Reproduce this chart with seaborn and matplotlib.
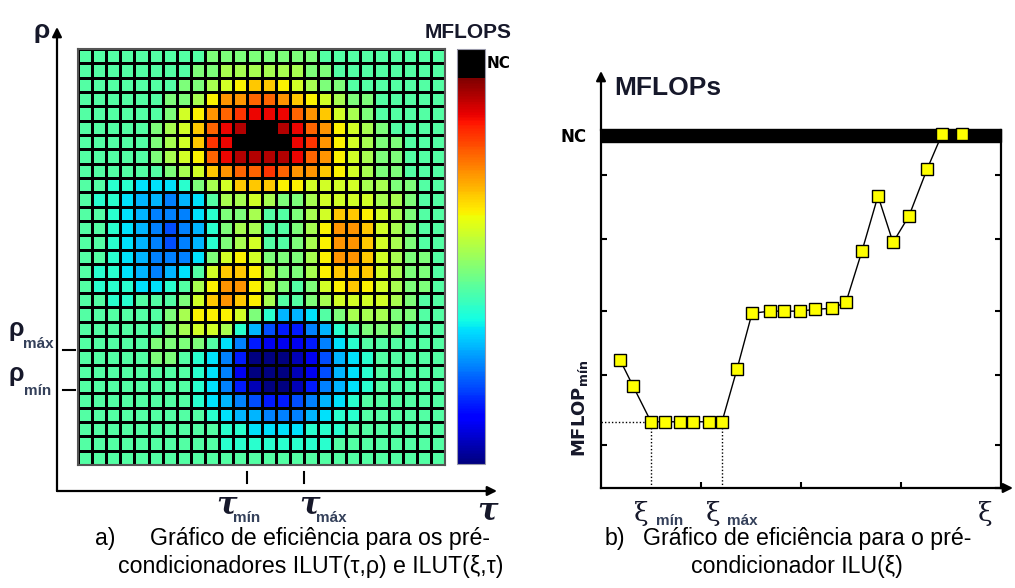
import numpy as np
import pandas as pd
import matplotlib
matplotlib.use("Agg")
import matplotlib.pyplot as plt
from matplotlib.colors import ListedColormap
import seaborn as sns

plt.rcParams["font.family"] = ["Liberation Sans", "DejaVu Sans"]

####################################################################################################
# data

# panel a: one string per grid row (top row first), one char per cell
# 0-9 / a-k -> jet level (index / 20), X -> NC (did not converge)
LEVEL_CODES = "0123456789abcdefghijk"
NC_VALUE = 1.075
heat_rows = [
    "999999999aaaaaaaa999999999",
    "99999999aabbbbbbaa99999999",
    "9999999aabcdeedcbaa9999999",
    "999999aabdffggfedcbaa99999",
    "999999acdfghiiigfecba99999",
    "99999abcegijXXjigfdcba9999",
    "99999abcehiXXXXihfdcbaa999",
    "99999abcdgijjjjigfdcbaa999",
    "999999abcefgghgffedcbaa999",
    "99887778abceeeddccccbbaa99",
    "9887665679bbcbaabccccbba99",
    "9987655578aab99abceedcba99",
    "9987654568abb99abdffecba99",
    "9987654568abc99abdffecba99",
    "998765557acdcaaabdffecbaa9",
    "988765679ceedbaabdeeecbaa9",
    "98887789bdffdba9acdedcbaa9",
    "9988999acefedb99abccccba99",
    "999999abdddca86679abbbaa99",
    "999999abccb864335689aaa999",
    "99999aaaa97532223578999999",
    "99999aa9875300012467899999",
    "99999999875200012467899999",
    "99999999875310013567899999",
    "99999999876543345678999999",
    "99999999987665556788999999",
    "99999999998877778889999999",
    "99999999998888888899999999",
    "99999999999999999999999999",
]
tau_ticks = [12, 16]      # column boundaries marked tau_min / tau_max
rho_ticks = [21.0, 23.8]  # row positions marked rho_max / rho_min

# panel b: efficiency curve of ILU(xi), arbitrary units (NC band at the top)
xi = [0.19, 0.32, 0.50, 0.64, 0.79, 0.92, 1.08, 1.21, 1.36, 1.51, 1.69, 1.83,
      1.99, 2.14, 2.31, 2.45, 2.61, 2.77, 2.92, 3.08, 3.26, 3.41, 3.61]
mflops = [35.8, 28.5, 18.5, 18.5, 18.5, 18.5, 18.5, 18.5, 33.2, 48.8, 49.4, 49.4,
          49.4, 49.9, 50.2, 51.9, 66.2, 81.6, 68.6, 76.0, 89.0, 98.8, 98.8]
i_min, i_max = 2, 7       # flat minimum from xi_min to xi_max
y_ticks_b = [12.0, 31.6, 49.4, 69.6, 87.4]
x_ticks_b = [1, 2, 3]

####################################################################################################
# figure helpers (positions given in pixels from the top-left corner)

W, H = 1015, 588
fig = plt.figure(figsize=(W / 100, H / 100), dpi=100)


def box(x0, y0, x1, y1):
    return [x0 / W, 1 - y1 / H, (x1 - x0) / W, (y1 - y0) / H]


def put(x, y, s, **kw):
    kw.setdefault("ha", "center")
    kw.setdefault("va", "center")
    fig.text(x / W, 1 - y / H, s, **kw)


def arrow(x0, y0, x1, y1):
    fig.add_artist(plt.Annotation(
        "", xy=(x1, H - y1), xytext=(x0, H - y0), xycoords="figure pixels",
        arrowprops=dict(arrowstyle="-|>", lw=1.6, color="black",
                        mutation_scale=14, shrinkA=0, shrinkB=0)))


SYM = "#16182a"
SUB = "#34405a"
CAP = 16.7

####################################################################################################
# a) heatmap


def code_value(c):
    return NC_VALUE if c == "X" else LEVEL_CODES.index(c) / 20


grid = pd.DataFrame([[code_value(c) for c in row] for row in heat_rows])

jet = plt.get_cmap("jet")(np.linspace(0, 1, 240))
black = np.tile([0, 0, 0, 1], (18, 1))
cmap = ListedColormap(np.vstack([jet, black]))

ax_h = fig.add_axes(box(78, 49, 445, 465))
ax_cb = fig.add_axes(box(457, 49, 485, 464))
sns.heatmap(grid, ax=ax_h, cmap=cmap, vmin=0, vmax=NC_VALUE, linewidths=1.8,
            linecolor="black", cbar_ax=ax_cb, xticklabels=False, yticklabels=False)
for sp in ax_h.spines.values():
    sp.set_visible(True)
    sp.set_color("#555555")
    sp.set_linewidth(1.5)
cbar = ax_h.collections[0].colorbar
cbar.set_ticks([])
cbar.outline.set_linewidth(0.8)
cbar.outline.set_edgecolor("#9999aa")

n_rows, n_cols = grid.shape
for t in tau_ticks:
    ax_h.plot([t, t], [n_rows + 0.5, n_rows + 1.25], color="black", lw=1.5, clip_on=False)
for r in rho_ticks:
    ax_h.plot([-1.06, -0.2], [r, r], color="black", lw=1.5, clip_on=False)

arrow(57, 491, 57, 27)
arrow(57, 491, 497, 491)

put(42, 31, "ρ", fontsize=19, fontweight="bold", color=SYM)
put(16, 329, "ρ", fontsize=18, fontweight="bold", color=SYM)
put(38, 344, "máx", fontsize=11, fontweight="bold", color=SUB)
put(16, 374, "ρ", fontsize=18, fontweight="bold", color=SYM)
put(38, 391, "mín", fontsize=11, fontweight="bold", color=SUB)

tau_kw = dict(fontsize=22, fontweight="bold", style="italic", family="DejaVu Serif", color=SYM)
put(226, 505, "τ", **tau_kw)
put(247, 518, "mín", fontsize=11, fontweight="bold", color=SUB)
put(309, 505, "τ", **tau_kw)
put(331, 518, "máx", fontsize=11, fontweight="bold", color=SUB)
put(487, 511, "τ", **tau_kw)

put(468, 32, "MFLOPS", fontsize=15, fontweight="bold", color=SYM)
put(487, 63, "NC", fontsize=11, fontweight="bold", color="black", ha="left",
    family="DejaVu Sans")

put(95, 539, "a)", fontsize=CAP, ha="left")
put(490, 539, "Gráfico de eficiência para os pré-", fontsize=CAP, ha="right")
put(311, 567, "condicionadores ILUT(τ,ρ) e ILUT(ξ,τ)", fontsize=CAP)

####################################################################################################
# b) efficiency curve

ax_r = fig.add_axes(box(601, 130, 1001, 488))
ax_r.axhspan(96.6, 100.4, color="black", zorder=2, clip_on=False)
ax_r.plot([0, xi[i_min]], [mflops[i_min]] * 2, color="black", lw=1, ls=(0, (1, 1.5)))
for i in (i_min, i_max):
    ax_r.plot([xi[i]] * 2, [0, mflops[i]], color="black", lw=1, ls=(0, (1, 1.5)))
sns.lineplot(x=xi, y=mflops, ax=ax_r, color="black", lw=1, marker="s", markersize=8,
             markerfacecolor="#ffff00", markeredgecolor="black", markeredgewidth=1,
             zorder=5, clip_on=False)
ax_r.set_xlim(0, 4)
ax_r.set_ylim(0, 100)
ax_r.set_xticks(x_ticks_b)
ax_r.set_yticks(y_ticks_b)
ax_r.tick_params(direction="in", length=4, width=1.5, left=True, right=True,
                 labelbottom=False, labelleft=False)
ax_r.spines["top"].set_visible(False)
for s in ("left", "right", "bottom"):
    ax_r.spines[s].set_linewidth(1.6)

arrow(601, 131, 601, 71)
arrow(995, 488, 1013, 488)

put(614, 88, "MFLOPs", fontsize=19, fontweight="bold", color=SYM, ha="left")
put(574, 137, "NC", fontsize=12, fontweight="bold", color="black", family="DejaVu Sans")
put(580, 408, r"$\mathbf{MFLOP}_{\mathbf{mín}}$", fontsize=13, color=SYM, rotation=90)

put(641, 513, "ξ", fontsize=19, color=SYM, family="DejaVu Serif")
put(670, 521, "mín", fontsize=11, fontweight="bold", color=SUB)
put(713, 513, "ξ", fontsize=19, color=SYM, family="DejaVu Serif")
put(742, 521, "máx", fontsize=11, fontweight="bold", color=SUB)
put(985, 513, "ξ", fontsize=19, color=SYM, family="DejaVu Serif")

put(605, 539, "b)", fontsize=CAP, ha="left")
put(643, 539, "Gráfico de eficiência para o pré-", fontsize=CAP, ha="left")
put(797, 567, "condicionador ILU(ξ)", fontsize=CAP)

fig.savefig("out.png", dpi=100)
